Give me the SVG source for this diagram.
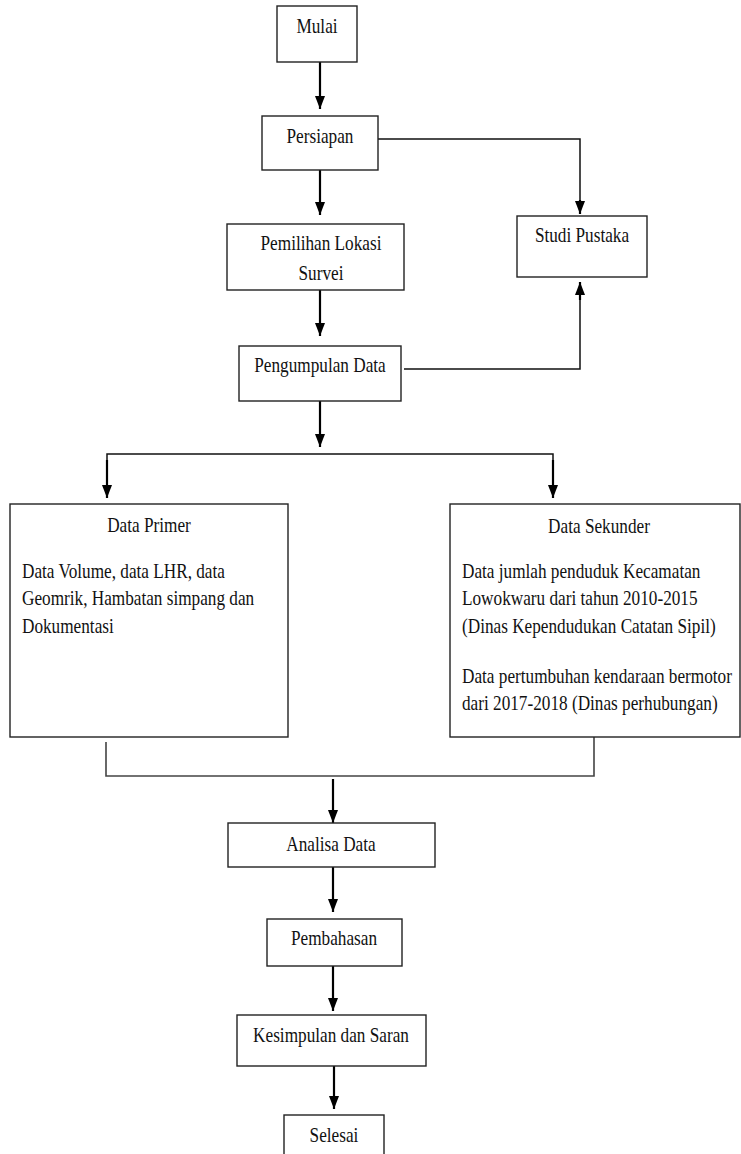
<svg xmlns="http://www.w3.org/2000/svg" width="741" height="1154" viewBox="0 0 741 1154">
<style>
.box{fill:#fff;stroke:#222;stroke-width:1.4}
.t{font-family:"Liberation Serif","Times New Roman",serif;font-size:21px;fill:#111}
.c{text-anchor:middle}
.arr{fill:none;stroke:#000;stroke-width:2.2}
.ln{fill:none;stroke:#111;stroke-width:1.5}
.gl{fill:none;stroke:#444;stroke-width:1.6}
</style>
<defs>
<marker id="ah" markerUnits="userSpaceOnUse" markerWidth="14" markerHeight="12" refX="13" refY="5" orient="auto">
<path d="M0,0 L13,5 L0,10 Z" fill="#000"/>
</marker>
</defs>
<rect width="741" height="1154" fill="#fff"/>
<g id="connectors">
<line class="arr" x1="320" y1="62" x2="320" y2="109" marker-end="url(#ah)"/>
<line class="arr" x1="320" y1="170" x2="320" y2="215" marker-end="url(#ah)"/>
<path class="ln" d="M378,139 H580 V205"/>
<line class="arr" x1="580" y1="200" x2="580" y2="214" marker-end="url(#ah)"/>
<line class="arr" x1="320" y1="290" x2="320" y2="336" marker-end="url(#ah)"/>
<path class="ln" d="M404,369 H580 V292"/>
<line class="arr" x1="580" y1="300" x2="580" y2="282" marker-end="url(#ah)"/>
<line class="arr" x1="320" y1="401" x2="320" y2="447" marker-end="url(#ah)"/>
<path class="ln" d="M107,497 V454 H553 V497"/>
<line class="arr" x1="107" y1="460" x2="107" y2="498" marker-end="url(#ah)"/>
<line class="arr" x1="553" y1="460" x2="553" y2="498" marker-end="url(#ah)"/>
<path class="gl" d="M106,742 V776 H594 V737"/>
<line class="arr" x1="333" y1="779" x2="333" y2="823" marker-end="url(#ah)"/>
<line class="arr" x1="333" y1="867" x2="333" y2="912" marker-end="url(#ah)"/>
<line class="arr" x1="333" y1="966" x2="333" y2="1011" marker-end="url(#ah)"/>
<line class="arr" x1="334" y1="1066" x2="334" y2="1109" marker-end="url(#ah)"/>
</g>
<g id="mulai"><rect class="box" x="277" y="6" width="80" height="56"/><text class="t c" x="317" y="33" transform="matrix(0.82 0 0 1 57.06 0)">Mulai</text></g>
<g id="persiapan"><rect class="box" x="262" y="116" width="116" height="54"/><text class="t c" x="320" y="143" transform="matrix(0.82 0 0 1 57.6 0)">Persiapan</text></g>
<g id="studi"><rect class="box" x="517" y="216" width="130" height="61"/><text class="t c" x="582" y="242" transform="matrix(0.82 0 0 1 104.76 0)">Studi Pustaka</text></g>
<g id="pemilihan"><rect class="box" x="227" y="224" width="177" height="66"/><text class="t c" x="321" y="250" transform="matrix(0.82 0 0 1 57.78 0)">Pemilihan Lokasi</text><text class="t c" x="321" y="280" transform="matrix(0.82 0 0 1 57.78 0)">Survei</text></g>
<g id="pengumpulan"><rect class="box" x="239" y="346" width="162" height="55"/><text class="t c" x="320" y="372" transform="matrix(0.82 0 0 1 57.6 0)">Pengumpulan Data</text></g>
<g id="primer"><rect class="box" x="10" y="504" width="278" height="233"/>
<text class="t c" x="149" y="532" transform="matrix(0.82 0 0 1 26.82 0)">Data Primer</text>
<g transform="matrix(0.82 0 0 1 3.96 0)">
<text class="t" x="22" y="578">Data Volume, data LHR, data</text>
<text class="t" x="22" y="605">Geomrik, Hambatan simpang dan</text>
<text class="t" x="22" y="633">Dokumentasi</text>
</g></g>
<g id="sekunder"><rect class="box" x="450" y="504" width="290" height="233"/>
<text class="t c" x="599" y="533" transform="matrix(0.82 0 0 1 107.82 0)">Data Sekunder</text>
<g transform="matrix(0.82 0 0 1 83.16 0)">
<text class="t" x="462" y="578">Data jumlah penduduk Kecamatan</text>
<text class="t" x="462" y="605">Lowokwaru dari tahun 2010-2015</text>
<text class="t" x="462" y="633">(Dinas Kependudukan Catatan Sipil)</text>
<text class="t" x="462" y="683">Data pertumbuhan kendaraan bermotor</text>
<text class="t" x="462" y="710">dari 2017-2018 (Dinas perhubungan)</text>
</g></g>
<g id="analisa"><rect class="box" x="228" y="823" width="207" height="44"/><text class="t c" x="331" y="851" transform="matrix(0.82 0 0 1 59.58 0)">Analisa Data</text></g>
<g id="pembahasan"><rect class="box" x="267" y="919" width="135" height="47"/><text class="t c" x="334" y="945" transform="matrix(0.82 0 0 1 60.12 0)">Pembahasan</text></g>
<g id="kesimpulan"><rect class="box" x="237" y="1015" width="189" height="51"/><text class="t c" x="331" y="1042" transform="matrix(0.82 0 0 1 59.58 0)">Kesimpulan dan Saran</text></g>
<g id="selesai"><rect class="box" x="284" y="1115" width="100" height="50"/><text class="t c" x="334" y="1142" transform="matrix(0.82 0 0 1 60.12 0)">Selesai</text></g>
</svg>
